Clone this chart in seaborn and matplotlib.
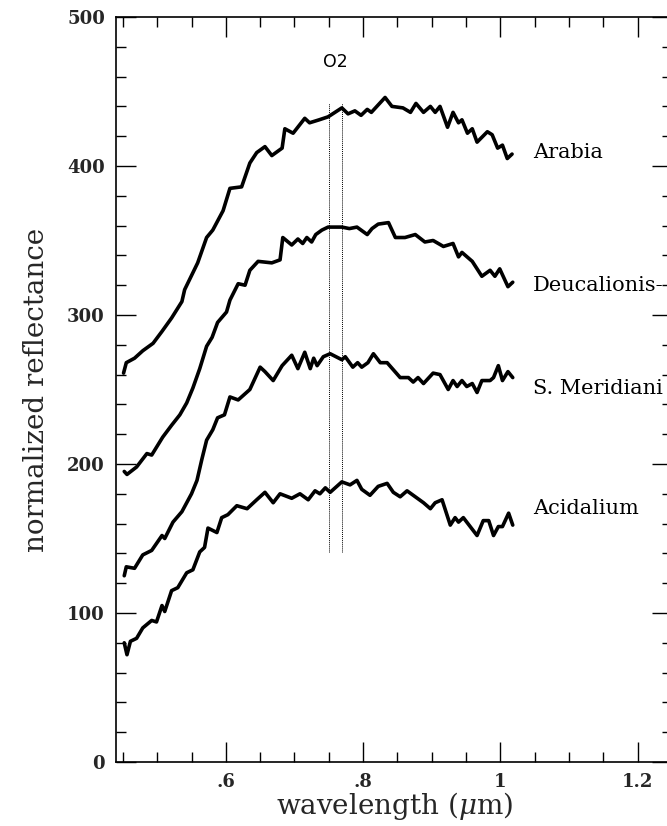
import matplotlib
matplotlib.use("Agg")
import matplotlib.pyplot as plt
import seaborn as sns
import numpy as np
import pandas as pd
from matplotlib.ticker import MultipleLocator, FixedLocator, FixedFormatter

# ---- data ----
arabia_x = [0.451, 0.455, 0.467, 0.479, 0.494, 0.507, 0.521, 0.536, 0.540, 0.559, 0.572, 0.581,
            0.596, 0.606, 0.623, 0.635, 0.645, 0.657, 0.667, 0.682, 0.686, 0.698, 0.715, 0.722,
            0.736, 0.749, 0.769, 0.778, 0.788, 0.797, 0.806, 0.812, 0.822, 0.832, 0.842, 0.858,
            0.869, 0.877, 0.888, 0.898, 0.905, 0.912, 0.923, 0.931, 0.939, 0.944, 0.952, 0.959,
            0.966, 0.981, 0.988, 0.996, 1.003, 1.010, 1.017]
arabia_y = [261, 268, 271, 276, 281, 289, 298, 309, 317, 335, 352, 357,
            370, 385, 386, 402, 409, 413, 407, 412, 425, 422, 432, 429,
            431, 433, 439, 435, 437, 434, 438, 436, 441, 446, 440, 439,
            436, 442, 436, 440, 436, 440, 426, 436, 429, 431, 422, 425,
            416, 423, 421, 412, 414, 405, 408]

deuc_x = [0.452, 0.456, 0.470, 0.485, 0.492, 0.508, 0.521, 0.533, 0.543, 0.552, 0.562, 0.572,
          0.580, 0.588, 0.601, 0.606, 0.618, 0.628, 0.635, 0.647, 0.667, 0.679, 0.683, 0.696,
          0.705, 0.712, 0.718, 0.725, 0.731, 0.740, 0.749, 0.769, 0.780, 0.791, 0.806, 0.813,
          0.822, 0.837, 0.847, 0.861, 0.876, 0.890, 0.902, 0.917, 0.931, 0.939, 0.944, 0.959,
          0.973, 0.985, 0.992, 0.999, 1.011, 1.018]
deuc_y = [195, 193, 198, 207, 206, 218, 226, 233, 241, 251, 264, 279,
          285, 295, 302, 310, 321, 320, 330, 336, 335, 337, 352, 347,
          351, 348, 352, 349, 354, 357, 359, 359, 358, 359, 354, 358,
          361, 362, 352, 352, 354, 349, 350, 346, 348, 339, 342, 336,
          326, 330, 326, 331, 319, 322]

merid_x = [0.452, 0.455, 0.467, 0.479, 0.492, 0.507, 0.511, 0.523, 0.536, 0.550, 0.558, 0.565,
           0.572, 0.581, 0.588, 0.598, 0.606, 0.618, 0.635, 0.645, 0.650, 0.657, 0.669, 0.682,
           0.696, 0.705, 0.715, 0.723, 0.728, 0.733, 0.742, 0.752, 0.769, 0.774, 0.785, 0.792,
           0.798, 0.807, 0.815, 0.825, 0.835, 0.854, 0.866, 0.873, 0.880, 0.888, 0.902, 0.912,
           0.924, 0.931, 0.937, 0.944, 0.951, 0.959, 0.966, 0.973, 0.985, 0.990, 0.997, 1.003,
           1.011, 1.018]
merid_y = [125, 131, 130, 139, 142, 152, 150, 161, 168, 180, 189, 203,
           216, 223, 231, 233, 245, 243, 250, 260, 265, 262, 256, 266,
           273, 264, 275, 264, 271, 266, 272, 274, 270, 272, 265, 268,
           265, 268, 274, 268, 268, 258, 258, 255, 258, 254, 261, 260,
           250, 256, 252, 256, 252, 254, 248, 256, 256, 258, 266, 256,
           262, 258]

acid_x = [0.452, 0.456, 0.461, 0.470, 0.479, 0.492, 0.499, 0.507, 0.511, 0.521, 0.530, 0.543,
          0.552, 0.562, 0.569, 0.574, 0.587, 0.594, 0.603, 0.616, 0.631, 0.645, 0.657, 0.669,
          0.679, 0.696, 0.708, 0.720, 0.730, 0.737, 0.745, 0.752, 0.769, 0.781, 0.791, 0.798,
          0.810, 0.822, 0.835, 0.844, 0.854, 0.864, 0.876, 0.888, 0.898, 0.905, 0.915, 0.927,
          0.934, 0.939, 0.946, 0.956, 0.966, 0.975, 0.983, 0.990, 0.997, 1.003, 1.012, 1.018]
acid_y = [80, 72, 81, 83, 90, 95, 94, 105, 101, 115, 117, 127,
          129, 141, 144, 157, 154, 164, 166, 172, 170, 176, 181, 174,
          180, 177, 180, 176, 182, 180, 184, 181, 188, 186, 189, 183,
          179, 185, 187, 181, 178, 182, 178, 174, 170, 174, 176, 159,
          164, 161, 164, 158, 152, 162, 162, 152, 158, 158, 167, 159]

region_names = ["Arabia", "Deucalionis-", "S. Meridiani", "Acidalium"]
label_y = [409, 320, 251, 170]
o2_x = [0.750, 0.769]

x_ticks = [0.6, 0.8, 1.0, 1.2]
x_ticklabels = [".6", ".8", "1", "1.2"]
y_ticks = [0, 100, 200, 300, 400, 500]
y_ticklabels = ["0", "100", "200", "300", "400", "500"]

# ---- plot ----
sns.set_theme(style="ticks")
plt.rcParams["font.family"] = ["DejaVu Serif"]
plt.rcParams["mathtext.fontset"] = "dejavuserif"

fig = plt.figure(figsize=(6.67, 8.26), dpi=100)
ax = fig.add_axes([116 / 667, 64 / 826, 556 / 667, 745 / 826])

series = [(arabia_x, arabia_y), (deuc_x, deuc_y), (merid_x, merid_y), (acid_x, acid_y)]
for (xs, ys), name in zip(series, region_names):
    df = pd.DataFrame({"wavelength": xs, "reflectance": ys})
    sns.lineplot(data=df, x="wavelength", y="reflectance", ax=ax, color="black",
                 linewidth=2.6, estimator=None, sort=False)

for xo in o2_x:
    ax.plot([xo, xo], [141, 442], color="black", linestyle=(0, (1, 1)), linewidth=0.7)
ax.text(np.mean(o2_x), 470, "O2", ha="center", va="center", fontsize=12.5,
        family=["DejaVu Sans"], color="black")

for name, ly in zip(region_names, label_y):
    ax.text(1.047, ly, name, ha="left", va="center", fontsize=15, color="black")

ax.set_xlim(0.44, 1.25)
ax.set_ylim(0, 500)
ax.xaxis.set_major_locator(FixedLocator(x_ticks))
ax.xaxis.set_major_formatter(FixedFormatter(x_ticklabels))
ax.xaxis.set_minor_locator(MultipleLocator(0.05))
ax.yaxis.set_major_locator(FixedLocator(y_ticks))
ax.yaxis.set_major_formatter(FixedFormatter(y_ticklabels))
ax.yaxis.set_minor_locator(MultipleLocator(20))
ax.tick_params(which="both", direction="in", top=True, right=True, color="black",
               labelsize=13, width=1.0, pad=8)
for lbl in ax.get_xticklabels() + ax.get_yticklabels():
    lbl.set_fontweight("bold")
ax.tick_params(which="major", length=14.5)
ax.tick_params(which="minor", length=7.2)
for sp in ax.spines.values():
    sp.set_linewidth(1.2)
    sp.set_color("black")

ax.set_xlabel(r"wavelength ($\mu$m)", fontsize=20, labelpad=-1)
ax.set_ylabel("normalized reflectance", fontsize=20, labelpad=12)

fig.savefig("out.png", dpi=100)
